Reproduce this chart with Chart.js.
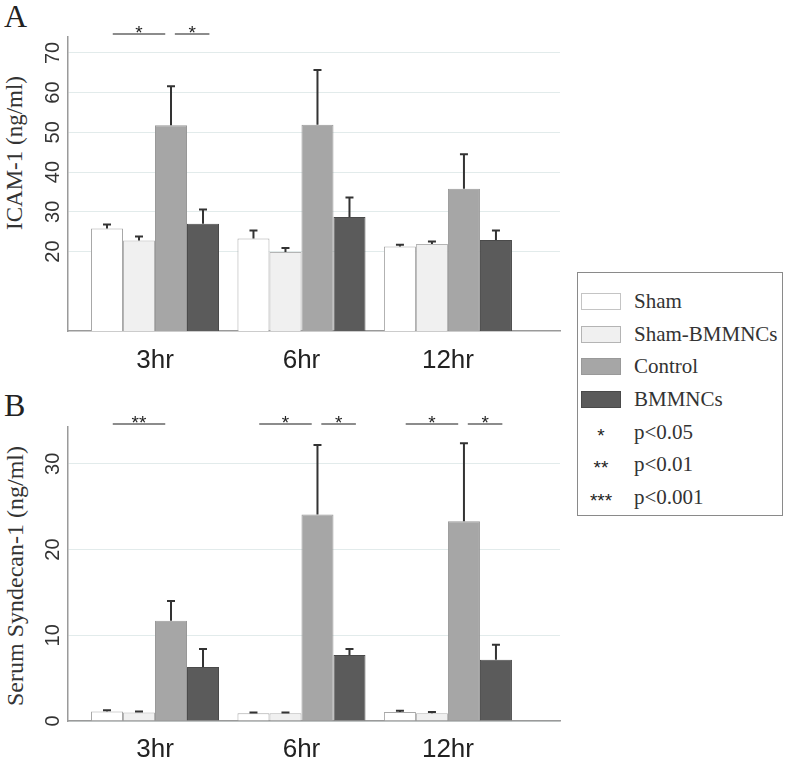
<!DOCTYPE html>
<html>
<head>
<meta charset="utf-8">
<script src="https://cdn.jsdelivr.net/npm/chart.js@4.4.1/dist/chart.umd.min.js"></script>
<style>
body { margin: 0; background: #fff; }
#wrap { position: relative; width: 787px; height: 762px; overflow: hidden; font-family: "Liberation Serif", "Times New Roman", serif; color: #222; }
canvas { position: absolute; left: 0; }
.panel { position: absolute; left: 4px; font-size: 32px; line-height: 1; }
.ytitle { position: absolute; font-size: 23px; white-space: nowrap; transform: translate(-50%, -50%) rotate(-90deg); color: #333; }
#legend { position: absolute; left: 577px; top: 272px; width: 206px; height: 244px; border: 1px solid #8a8a8a; padding-top: 12px; box-sizing: border-box; }
.row { height: 32.7px; display: flex; align-items: center; font-size: 21px; color: #333; font-family: "Liberation Serif", "Times New Roman", serif; }
.sw { width: 40px; height: 17px; box-sizing: border-box; margin-left: 3px; margin-right: 13px; }
.ast { width: 40px; margin-left: 3px; margin-right: 13px; text-align: center; font-family: "Liberation Sans", Arial, sans-serif; font-size: 19px; padding-top: 7px; color: #222; }
</style>
</head>
<body>
<div id="wrap">
  <div class="panel" style="top:0px">A</div>
  <div class="panel" style="top:389px">B</div>
  <div class="ytitle" style="left:15px; top:153px">ICAM-1 (ng/ml)</div>
  <div class="ytitle" style="left:15px; top:576px; font-size:24px">Serum Syndecan-1 (ng/ml)</div>
  <canvas id="chartA" width="575" height="380" style="top:0px"></canvas>
  <canvas id="chartB" width="575" height="382" style="top:380px"></canvas>
  <div id="legend"></div>
</div>
<script>
// time points and groups
const groups = ['3hr', '6hr', '12hr'];
const seriesNames = ['Sham', 'Sham-BMMNCs', 'Control', 'BMMNCs'];

// panel A: ICAM-1 (ng/ml), mean and SEM
const icamSham = [25.8, 23.3, 21.3];
const icamShamBm = [22.8, 19.9, 21.9];
const icamControl = [51.8, 51.9, 35.8];
const icamBmmncs = [27.0, 28.7, 22.9];
const icamShamErr = [1.0, 2.0, 0.4];
const icamShamBmErr = [1.0, 1.0, 0.6];
const icamControlErr = [9.8, 13.8, 8.7];
const icamBmmncsErr = [3.6, 4.9, 2.4];
const icamTicks = [20, 30, 40, 50, 60, 70];

// panel B: Serum Syndecan-1 (ng/ml), mean and SEM
const syndSham = [1.1, 0.9, 1.05];
const syndShamBm = [1.0, 0.9, 0.9];
const syndControl = [11.7, 24.1, 23.3];
const syndBmmncs = [6.3, 7.7, 7.15];
const syndShamErr = [0.15, 0.1, 0.15];
const syndShamBmErr = [0.1, 0.1, 0.15];
const syndControlErr = [2.3, 8.1, 9.1];
const syndBmmncsErr = [2.1, 0.7, 1.75];
const syndTicks = [0, 10, 20, 30];

// significance marks: [group, from series, to series, label]
const icamSig = [[0, 0, 2, '*'], [0, 2, 3, '*']];
const syndSig = [[0, 0, 2, '**'], [1, 0, 2, '*'], [1, 2, 3, '*'], [2, 0, 2, '*'], [2, 2, 3, '*']];

const pLabels = [['*', 'p<0.05'], ['**', 'p<0.01'], ['***', 'p<0.001']];

const fills = ['#ffffff', '#f0f0f0', '#a6a6a6', '#5b5b5b'];
const borders = ['#a8a8a8', '#b4b4b4', '#999999', '#4a4a4a'];

/**
 * Turn one series into {x, y} points on the linear index axis
 */
function toPoints(values) {
    return values.map((v, i) => ({x: i, y: v}));
}

function makeDatasets(values, errors) {
    return values.map((vals, i) => ({
        label: seriesNames[i],
        data: toPoints(vals),
        errors: errors[i],
        backgroundColor: fills[i],
        borderColor: borders[i],
        borderWidth: 1,
        categoryPercentage: 0.874,
        barPercentage: 1.0,
    }));
}

// up-only error bars with a small cap
const errorBars = {
    id: 'errorBars',
    afterDatasetsDraw(chart) {
        const ctx = chart.ctx;
        const y = chart.scales.y;
        ctx.save();
        ctx.strokeStyle = '#333';
        ctx.lineWidth = 2;
        chart.data.datasets.forEach((ds, i) => {
            chart.getDatasetMeta(i).data.forEach((bar, j) => {
                const top = y.getPixelForValue(ds.data[j].y + ds.errors[j]);
                ctx.beginPath();
                ctx.moveTo(bar.x, bar.y);
                ctx.lineTo(bar.x, top);
                ctx.moveTo(bar.x - 4, top);
                ctx.lineTo(bar.x + 4, top);
                ctx.stroke();
            });
        });
        ctx.restore();
    }
};

// rotated y tick labels, like the original figure
const rotatedTicks = {
    id: 'rotatedTicks',
    afterDraw(chart) {
        const ctx = chart.ctx;
        const y = chart.scales.y;
        ctx.save();
        ctx.fillStyle = '#333';
        ctx.font = '20px "Liberation Sans", Arial, sans-serif';
        ctx.textAlign = 'center';
        ctx.textBaseline = 'middle';
        y.ticks.forEach(t => {
            ctx.save();
            ctx.translate(y.right - 15, y.getPixelForValue(t.value));
            ctx.rotate(-Math.PI / 2);
            ctx.fillText(String(t.value), 0, 0);
            ctx.restore();
        });
        ctx.restore();
    }
};

// significance brackets above the plot
const sigMarks = {
    id: 'sigMarks',
    afterDraw(chart, args, opts) {
        const ctx = chart.ctx;
        const lineY = chart.chartArea.top - 3;
        ctx.save();
        ctx.strokeStyle = '#666';
        ctx.lineWidth = 1.5;
        ctx.fillStyle = '#222';
        ctx.font = '19px "Liberation Sans", Arial, sans-serif';
        ctx.textAlign = 'center';
        ctx.textBaseline = 'alphabetic';
        (opts.marks || []).forEach(([g, a, b, label]) => {
            const ba = chart.getDatasetMeta(a).data[g];
            const bb = chart.getDatasetMeta(b).data[g];
            const w = ba.width;
            let x1, x2;
            if (b - a > 1) {
                x1 = ba.x + 0.18 * w;
                x2 = bb.x - 0.18 * w;
            } else {
                x1 = ba.x + 0.12 * w;
                x2 = bb.x + 0.2 * w;
            }
            ctx.beginPath();
            ctx.moveTo(x1, lineY);
            ctx.lineTo(x2, lineY);
            ctx.stroke();
            ctx.fillText(label, (x1 + x2) / 2, lineY + 5);
        });
        ctx.restore();
    }
};

function buildChart(id, datasets, yMax, ticks, marks, topPad, xHeight, labelPad) {
    return new Chart(document.getElementById(id), {
        type: 'bar',
        data: {datasets: datasets},
        options: {
            responsive: false,
            animation: false,
            layout: {padding: {top: topPad, right: 15, left: 0, bottom: 0}},
            plugins: {
                legend: {display: false},
                tooltip: {enabled: false},
                sigMarks: {marks: marks},
            },
            scales: {
                x: {
                    type: 'linear',
                    offset: false,
                    min: -0.594,
                    max: 2.765,
                    afterBuildTicks: s => { s.ticks = groups.map((g, i) => ({value: i})); },
                    afterFit: s => { s.height = xHeight; },
                    grid: {display: false, offset: false},
                    border: {display: true, color: '#9a9a9a', width: 1.5},
                    ticks: {
                        callback: v => groups[v] || '',
                        font: {family: '"Liberation Sans", Arial, sans-serif', size: 26},
                        color: '#222',
                        padding: labelPad,
                        maxRotation: 0,
                        autoSkip: false,
                    },
                },
                y: {
                    type: 'linear',
                    min: 0,
                    max: yMax,
                    afterBuildTicks: s => { s.ticks = ticks.map(v => ({value: v})); },
                    afterFit: s => { s.width = 68; },
                    grid: {color: '#e2ebeb', lineWidth: 1, drawTicks: false},
                    border: {display: true, color: '#9a9a9a', width: 1.5},
                    ticks: {display: false},
                },
            },
        },
        plugins: [errorBars, rotatedTicks, sigMarks],
    });
}

buildChart('chartA',
    makeDatasets([icamSham, icamShamBm, icamControl, icamBmmncs],
                 [icamShamErr, icamShamBmErr, icamControlErr, icamBmmncsErr]),
    74, icamTicks, icamSig, 37, 49, 6);

buildChart('chartB',
    makeDatasets([syndSham, syndShamBm, syndControl, syndBmmncs],
                 [syndShamErr, syndShamBmErr, syndControlErr, syndBmmncsErr]),
    34.3, syndTicks, syndSig, 47, 41, 5);

// legend box: four series swatches plus the p-value key
const legend = document.getElementById('legend');
seriesNames.forEach((name, i) => {
    const row = document.createElement('div');
    row.className = 'row';
    row.innerHTML = '<div class="sw" style="background:' + fills[i] + ';border:1px solid ' +
        (i === 0 ? '#c4c4c4' : borders[i]) + '"></div><span>' + name + '</span>';
    legend.appendChild(row);
});
pLabels.forEach(([stars, text]) => {
    const row = document.createElement('div');
    row.className = 'row';
    row.innerHTML = '<div class="ast">' + stars + '</div><span>' + text + '</span>';
    legend.appendChild(row);
});
</script>
</body>
</html>
